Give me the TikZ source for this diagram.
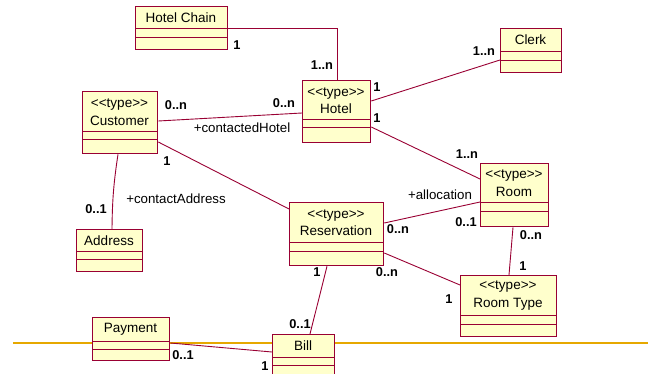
\documentclass[tikz,border=0pt]{standalone}
\usepackage{fontspec}
\setmainfont{Liberation Sans}
\definecolor{boxfill}{HTML}{FFFFCC}
\definecolor{boxline}{HTML}{990033}
\definecolor{rule}{HTML}{E6A800}
\tikzset{
  cls/.style={draw=boxline, fill=boxfill, line width=1.3pt, inner sep=0pt, anchor=north west},
  clsline/.style={draw=boxline, line width=1pt},
  assoc/.style={draw=boxline, line width=0.9pt},
  txt/.style={inner sep=0pt, align=center, font=\fontsize{13.5}{17.5}\selectfont},
  mult/.style={inner sep=0pt, font=\fontsize{12.8}{14}\selectfont\bfseries},
  role/.style={inner sep=0pt, font=\fontsize{13.3}{15}\selectfont},
}
\newcommand{\classbox}[7]{%
  \node[cls, minimum width=#4pt, minimum height=#5pt] (#1) at (#2,#3) {};
  \draw[clsline] ([yshift=-#6pt]#1.north west) -- ([yshift=-#6pt]#1.north east);
  \draw[clsline] ([yshift=-#7pt]#1.north west) -- ([yshift=-#7pt]#1.north east);
}
\newcommand{\stt}{<\kern0pt<type>\kern0pt>}
\begin{document}
\begin{tikzpicture}[x=1pt,y=-1pt]
\useasboundingbox (0,0) rectangle (648,374);
\clip (0,0) rectangle (648,374);
% horizontal rule
\coordinate (rl) at (13,343);
\coordinate (rr) at (648,343);
\draw[draw=rule, line width=1.2pt] (rl) -- (rr);
% class boxes
\classbox{hchain}{135}{6}{92}{43}{23}{32}
\classbox{hotel}{302}{80}{68}{62}{40}{48}
\classbox{clerk}{500}{28}{61}{44}{24}{33}
\classbox{cust}{82}{91}{75}{62}{41}{49}
\classbox{addr}{76}{229}{66}{42}{23}{31}
\classbox{res}{289}{202}{94}{63}{41}{50}
\classbox{room}{480}{163}{68}{63}{40}{49}
\classbox{rt}{460}{275}{96}{61}{40}{49}
\classbox{pay}{92}{317}{77}{43}{24}{32}
\classbox{bill}{272}{334}{62}{60}{23}{31}
% class names
\node[txt] (hchainT) at (181,17.5) {Hotel Chain};
\node[txt] (hotelT) at (336,100.5) {\stt\\Hotel};
\node[txt] (clerkT) at (530.5,40) {Clerk};
\node[txt] (custT) at (119.5,112) {\stt\\Customer};
\node[txt] (addrT) at (109,240.5) {Address};
\node[txt] (resT) at (336,222.5) {\stt\\Reservation};
\node[txt] (roomT) at (514,183) {\stt\\Room};
\node[txt] (rtT) at (508,295.5) {\stt\\Room Type};
\node[txt] (payT) at (130.5,329) {Payment};
\node[txt] (billT) at (303,345.5) {Bill};
% connectors
\draw[assoc] ([yshift=-22pt]hchain.north east) -| ([xshift=35pt]hotel.north west);
\draw[assoc] ([yshift=-21pt]hotel.north east) -- ([yshift=-32pt]clerk.north west);
\draw[assoc] ([yshift=-47pt]hotel.north east) -- ([yshift=-16pt]room.north west);
\draw[assoc] ([yshift=-30pt]cust.north east) -- ([yshift=-33pt]hotel.north west);
\draw[assoc] ([yshift=-51pt]cust.north east) -- ([yshift=-7pt]res.north west);
\draw[assoc] ([xshift=36pt]cust.south west) to[bend right=4] ([xshift=36pt]addr.north west);
\draw[assoc] ([yshift=-21pt]res.north east) -- ([yshift=-39pt]room.north west);
\draw[assoc] ([yshift=-51pt]res.north east) -- ([yshift=-10pt]rt.north west);
\draw[assoc] ([xshift=33pt]room.south west) -- ([xshift=49pt]rt.north west);
\draw[assoc] ([xshift=38pt]res.south west) -- ([xshift=38pt]bill.north west);
\draw[assoc] ([yshift=-26pt]pay.north east) -- ([yshift=-18pt]bill.north west);
% multiplicities and roles
\node[mult] (m1) at (237,45) {1};
\node[mult] (m2) at (322,65) {1..n};
\node[mult] (m3) at (484,51) {1..n};
\node[mult] (m4) at (377,87) {1};
\node[mult] (m5) at (377,118) {1};
\node[mult] (m6) at (467,154) {1..n};
\node[mult] (m7) at (176,105) {0..n};
\node[mult] (m8) at (284,103) {0..n};
\node[role] (r1) at (242,128) {+contactedHotel};
\node[mult] (m9) at (167,161) {1};
\node[mult] (m10) at (96,209) {0..1};
\node[role] (r2) at (176,199) {+contactAddress};
\node[role] (r3) at (440,195) {+allocation};
\node[mult] (m11) at (398,229) {0..n};
\node[mult] (m12) at (466,222) {0..1};
\node[mult] (m13) at (531,235) {0..n};
\node[mult] (m14) at (523,266) {1};
\node[mult] (m15) at (387,272) {0..n};
\node[mult] (m16) at (449,299) {1};
\node[mult] (m17) at (317,272) {1};
\node[mult] (m18) at (300,324) {0..1};
\node[mult] (m19) at (183,355) {0..1};
\node[mult] (m20) at (265,366) {1};
\end{tikzpicture}
\end{document}
